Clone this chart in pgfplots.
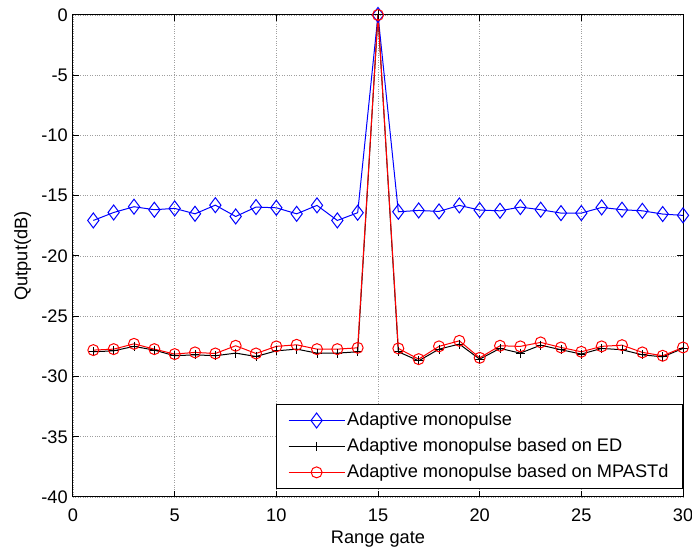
\documentclass[border=0pt]{standalone}
\usepackage{pgfplots}
\pgfplotsset{compat=1.18}
\usepackage{fontspec}
\setmainfont{Liberation Sans}
\begin{document}
\fontsize{18.2}{22}\selectfont
\begin{tikzpicture}
\begin{axis}[
  scale only axis,
  width=610pt, height=482pt,
  xmin=0, xmax=30, ymin=-40, ymax=0,
  xtick={0,5,...,30}, ytick={-40,-35,...,0},
  /pgf/number format/assume math mode=true,
  tick label style={font=\fontsize{18.2}{22}\selectfont},
  xticklabel style={yshift=-6pt},
  yticklabel style={xshift=1pt},
  label style={font=\fontsize{18.2}{22}\selectfont},
  xlabel={Range gate}, ylabel={Qutput(dB)},
  xlabel style={yshift=4pt},
  ylabel style={yshift=-2pt},
  axis line style={line width=1pt},
  major tick length=6pt,
  tick style={line width=1pt, black},
  xmajorgrids, ymajorgrids,
  grid style={dotted, line width=0.8pt, gray!75},
  legend style={at={(rel axis cs:1,0.017)}, anchor=south east,
    draw=black, line width=1pt, fill=white,
    font=\fontsize{18.2}{22}\selectfont,
    nodes={inner sep=2pt},
    row sep=6pt, inner xsep=12pt, inner ysep=6pt},
  legend cell align=left,
  legend image code/.code={\draw[mark repeat=2,mark phase=2] plot coordinates {(0pt,0pt) (28pt,0pt) (56pt,0pt)};},
]
\coordinate (bl) at (rel axis cs:0,0);
\coordinate (tr) at (rel axis cs:1,1);
\addplot[blue, line width=1pt, mark=diamond, mark size=7.5pt, mark options={solid, line width=1pt, fill=none}] coordinates {
(1,-17.05) (2,-16.39) (3,-15.91) (4,-16.16) (5,-16.05) (6,-16.5) (7,-15.78) (8,-16.72) (9,-15.94) (10,-16.0)
(11,-16.5) (12,-15.8) (13,-17.05) (14,-16.41) (15,0) (16,-16.33) (17,-16.22) (18,-16.3) (19,-15.8) (20,-16.19)
(21,-16.25) (22,-15.94) (23,-16.16) (24,-16.44) (25,-16.44) (26,-15.97) (27,-16.16) (28,-16.25) (29,-16.52) (30,-16.63)};
\addlegendentry{Adaptive monopulse}
\addplot[black, line width=1pt, mark=+, mark size=4.5pt, mark options={solid, line width=1pt}] coordinates {
(1,-27.95) (2,-27.87) (3,-27.5) (4,-27.81) (5,-28.28) (6,-28.2) (7,-28.28) (8,-28.06) (9,-28.34) (10,-27.87)
(11,-27.73) (12,-28.06) (13,-28.06) (14,-27.95) (15,0) (16,-27.95) (17,-28.7) (18,-27.73) (19,-27.31) (20,-28.56)
(21,-27.67) (22,-28.06) (23,-27.4) (24,-27.78) (25,-28.14) (26,-27.67) (27,-27.78) (28,-28.2) (29,-28.37) (30,-27.67)};
\addlegendentry{Adaptive monopulse based on ED}
\addplot[red, line width=1pt, mark=o, mark size=5.5pt, mark options={solid, line width=1pt, fill=none}] coordinates {
(1,-27.81) (2,-27.73) (3,-27.29) (4,-27.73) (5,-28.14) (6,-28.0) (7,-28.09) (8,-27.45) (9,-28.09) (10,-27.5)
(11,-27.37) (12,-27.73) (13,-27.73) (14,-27.62) (15,0) (16,-27.67) (17,-28.56) (18,-27.5) (19,-27.04) (20,-28.45)
(21,-27.45) (22,-27.5) (23,-27.17) (24,-27.59) (25,-27.95) (26,-27.5) (27,-27.4) (28,-28.0) (29,-28.28) (30,-27.59)};
\addlegendentry{Adaptive monopulse based on MPASTd}
\end{axis}
\pgfresetboundingbox
\path ([shift={(-73pt,-50pt)}]bl) rectangle ([shift={(9pt,15pt)}]tr);
\end{tikzpicture}
\end{document}
